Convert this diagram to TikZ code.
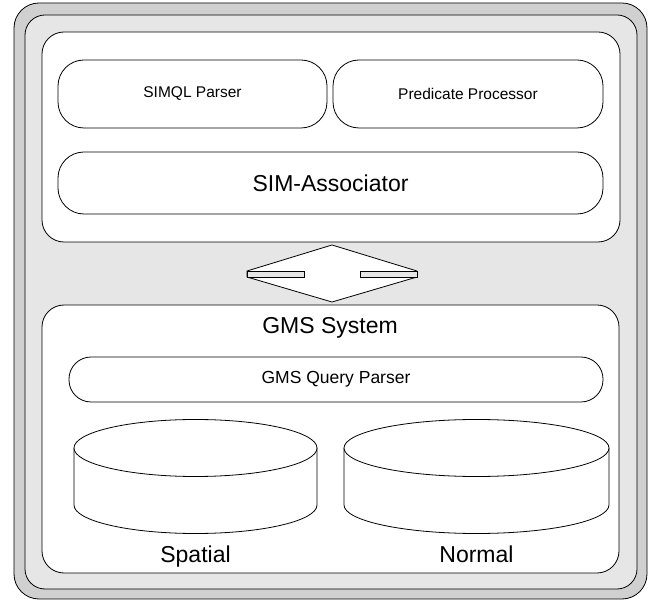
\documentclass[tikz,border=0pt]{standalone}
\usepackage{fontspec}
\setmainfont{Liberation Sans}
\usepackage{tikz}
\usetikzlibrary{calc}
\definecolor{frameout}{HTML}{D0D0D0}
\definecolor{framein}{HTML}{E6E6E6}
\tikzset{
  panel/.style={rectangle,rounded corners=22pt,draw=black,line width=0.8pt,
    fill=white,inner sep=0pt},
  pill/.style={rectangle,rounded corners=26pt,draw=black,line width=0.8pt,
    fill=white,inner sep=0pt,align=center},
  smalltxt/.style={font=\fontsize{15.5}{18}\selectfont},
  midtxt/.style={font=\fontsize{17.5}{20}\selectfont},
  bigtxt/.style={font=\fontsize{23}{27}\selectfont},
  drum/.style={draw=black,line width=0.8pt,fill=white}
}

\begin{document}
\begin{tikzpicture}[x=1pt,y=-1pt]
\useasboundingbox (0,0) rectangle (654,601);
% cylinder: centre x, x radius
\def\drum#1#2{%
  \draw[drum] (#1-#2,448) -- (#1-#2,505)
    arc[start angle=180,end angle=0,x radius=#2,y radius=28.5] -- (#1+#2,448);
  \draw[drum] (#1,448) ellipse[x radius=#2,y radius=28.5];}
% ---------------- frame ----------------
\node[panel,fill=frameout,rounded corners=25pt,minimum width=633pt,
  minimum height=596pt] (outer) at (330.5,301) {};
\node[panel,fill=framein,rounded corners=20pt,minimum width=612pt,
  minimum height=574pt] (inner) at (331,302) {};
% ---------------- SIM part ----------------
\node[panel,minimum width=578pt,minimum height=210pt] (simbox) at (331,137) {};
\node[pill,smalltxt,minimum width=269pt,minimum height=68pt] (simql)
  at (192.5,94) {SIMQL Parser};
\node[pill,smalltxt,minimum width=270pt,minimum height=68pt] (pred)
  at (468,94) {Predicate Processor};
\node[pill,bigtxt,minimum width=545pt,minimum height=62pt] (assoc)
  at (330.5,183) {SIM-Associator};
% ---------------- double arrow ----------------
\draw[line width=0.8pt,fill=white] (247,271) -- (332,245) -- (417,271)
  -- (417,277) -- (332,302) -- (247,277) -- cycle;
\draw[line width=0.6pt,fill=framein] (247,271) rectangle (304,277);
\draw[line width=0.6pt,fill=framein] (360,271) rectangle (417,277);
% ---------------- GMS part ----------------
\node[panel,minimum width=577pt,minimum height=268pt] (gmsbox) at (330.5,439) {};
\node[bigtxt,anchor=base] (gmstitle) at (330,334) {GMS System};
\node[pill,midtxt,rounded corners=22pt,minimum width=534pt,minimum height=45pt]
  (gmsparser) at (336,379.5) {GMS Query Parser};
\drum{195.5}{121.5}
\drum{476.5}{132.5}
\node[bigtxt,anchor=base] (spatial) at (195.5,563) {Spatial};
\node[bigtxt,anchor=base] (normal) at (476.5,563) {Normal};
\end{tikzpicture}
\end{document}
